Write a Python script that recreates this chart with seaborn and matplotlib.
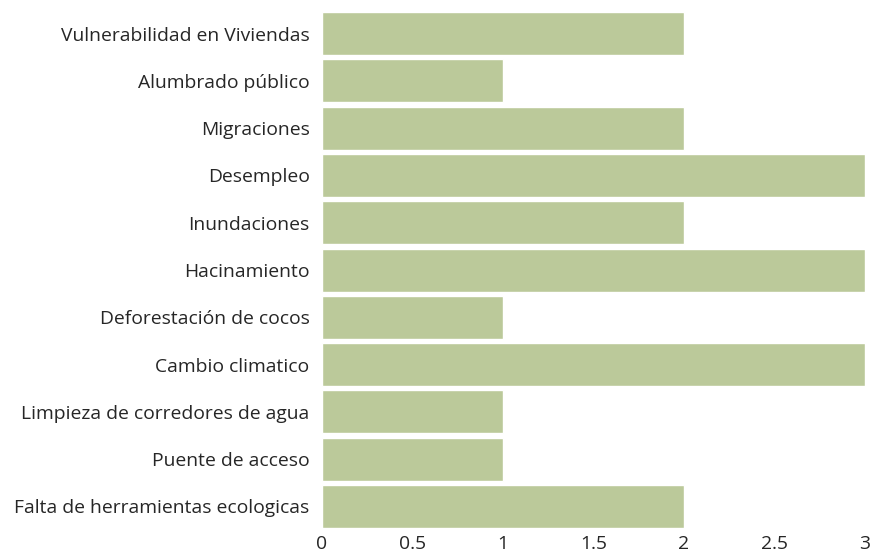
import matplotlib
matplotlib.use("Agg")
import matplotlib.pyplot as plt
import seaborn as sns
import pandas as pd

categories = [
    "Vulnerabilidad en Viviendas",
    "Alumbrado público",
    "Migraciones",
    "Desempleo",
    "Inundaciones",
    "Hacinamiento",
    "Deforestación de cocos",
    "Cambio climatico",
    "Limpieza de corredores de agua",
    "Puente de acceso",
    "Falta de herramientas ecologicas",
]
values = [2, 1, 2, 3, 2, 3, 1, 3, 1, 1, 2]
x_ticks = [0, 0.5, 1, 1.5, 2, 2.5, 3]
x_tick_labels = ["0", "0.5", "1", "1.5", "2", "2.5", "3"]

df = pd.DataFrame({"tema": categories, "valor": values})

sns.set_theme(style="white")
plt.rcParams["font.family"] = ["Open Sans", "DejaVu Sans"]

fig = plt.figure(figsize=(8.73, 5.54), dpi=100)
ax = fig.add_axes([0.3689, 0.0469, 0.6219, 0.9314])

sns.barplot(data=df, x="valor", y="tema", order=categories, color="#BBC99A",
            saturation=1, width=0.91, ax=ax)

ax.set_xlim(0, 3)
ax.set_ylim(len(categories) - 1 + 0.455, -0.455)
ax.set_xticks(x_ticks)
ax.set_xticklabels(x_tick_labels)
ax.set_xlabel("")
ax.set_ylabel("")
ax.tick_params(axis="y", length=0, pad=9, labelsize=13.9, labelcolor="#262626")
ax.tick_params(axis="x", length=0, pad=5, labelsize=13.9, labelcolor="#262626")
sns.despine(ax=ax, left=True, bottom=True)

fig.savefig("out.png", dpi=100)
